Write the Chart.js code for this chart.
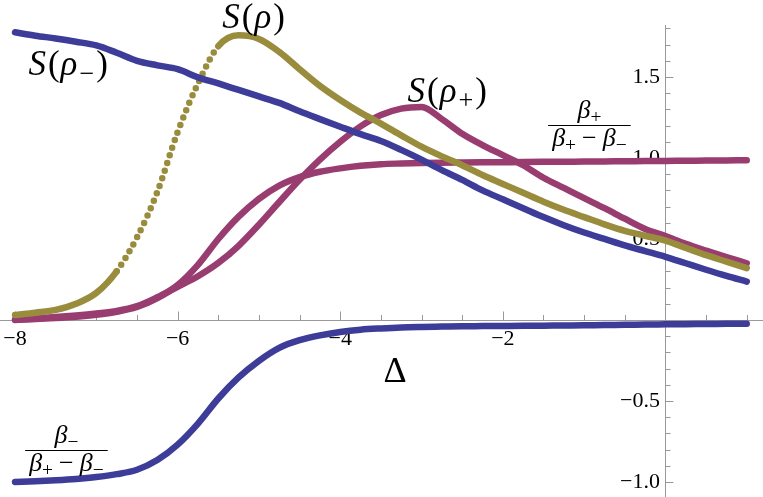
<!DOCTYPE html>
<html>
<head>
<meta charset="utf-8">
<script src="https://cdn.jsdelivr.net/npm/chart.js@4.4.1/dist/chart.umd.min.js"></script>
<style>
  html, body { margin: 0; padding: 0; background: #fff; }
  #wrap { width: 763px; height: 497px; }
</style>
</head>
<body>
<div id="wrap"><canvas id="plot" width="763" height="497"></canvas></div>
<script>
// Δ values (x) shared by all curves
const delta = [-8, -7.75, -7.5, -7.25, -7, -6.75, -6.5, -6.25, -6, -5.75, -5.5, -5.25, -5,
  -4.75, -4.5, -4.25, -4, -3.75, -3.5, -3.25, -3, -2.75, -2.5, -2.25, -2, -1.75, -1.5,
  -1.25, -1, -0.75, -0.5, -0.25, 0, 0.25, 0.5, 0.75, 1];

const sRhoMinus = [1.776, 1.755, 1.738, 1.718, 1.695, 1.650, 1.600, 1.572, 1.548, 1.498, 1.460,
  1.420, 1.380, 1.340, 1.288, 1.240, 1.193, 1.147, 1.105, 1.050, 0.990, 0.925, 0.865, 0.800,
  0.745, 0.690, 0.635, 0.585, 0.540, 0.500, 0.460, 0.425, 0.390, 0.350, 0.310, 0.272, 0.237];

const sRho = [0.031, 0.045, 0.062, 0.100, 0.167, 0.300, 0.510, 0.790, 1.160, 1.460, 1.690,
  1.757, 1.735, 1.655, 1.548, 1.445, 1.358, 1.280, 1.212, 1.140, 1.070, 1.010, 0.955, 0.895,
  0.840, 0.785, 0.730, 0.680, 0.635, 0.590, 0.550, 0.520, 0.490, 0.445, 0.400, 0.360, 0.320];

const sRhoPlus = [0.000, 0.008, 0.018, 0.028, 0.040, 0.055, 0.085, 0.140, 0.205, 0.270, 0.352,
  0.458, 0.588, 0.728, 0.865, 0.990, 1.100, 1.195, 1.265, 1.305, 1.315, 1.240, 1.150, 1.080,
  1.018, 0.955, 0.878, 0.815, 0.752, 0.690, 0.625, 0.562, 0.518, 0.470, 0.428, 0.388, 0.350];

const betaPlusRatio = [0.002, 0.006, 0.012, 0.020, 0.032, 0.050, 0.080, 0.135, 0.215, 0.340,
  0.500, 0.638, 0.748, 0.830, 0.882, 0.915, 0.936, 0.952, 0.962, 0.966, 0.969, 0.971, 0.972,
  0.973, 0.974, 0.975, 0.976, 0.977, 0.978, 0.979, 0.980, 0.981, 0.982, 0.983, 0.984, 0.985, 0.986];

const betaMinusRatio = [-1.000, -0.996, -0.990, -0.982, -0.970, -0.952, -0.925, -0.865, -0.770,
  -0.640, -0.485, -0.355, -0.252, -0.172, -0.125, -0.095, -0.074, -0.060, -0.052, -0.046,
  -0.043, -0.041, -0.039, -0.038, -0.037, -0.036, -0.035, -0.034, -0.033, -0.031, -0.030,
  -0.028, -0.027, -0.026, -0.025, -0.024, -0.023];

// ticks
const xTickValues = [-8, -7.5, -7, -6.5, -6, -5.5, -5, -4.5, -4, -3.5, -3, -2.5, -2, -1.5, -1, -0.5, 0.5, 1];
const xMajor = [-8, -6, -4, -2];
const yTickValues = [-1, -0.9, -0.8, -0.7, -0.6, -0.5, -0.4, -0.3, -0.2, -0.1,
  0.1, 0.2, 0.3, 0.4, 0.5, 0.6, 0.7, 0.8, 0.9, 1, 1.1, 1.2, 1.3, 1.4, 1.5, 1.6, 1.7, 1.8];
const yMajor = [-1, -0.5, 0.5, 1, 1.5];

const BLUE = '#3d3d99';
const MAGENTA = '#993d71';
const OLIVE = '#998d3d';
const SERIF = '"Liberation Serif", "Times New Roman", "DejaVu Serif", serif';

const isMajor = (v, list) => list.some(m => Math.abs(m - v) < 1e-9);
const minus = s => s.replace('-', '\u2212');
const pts = arr => delta.map((x, i) => ({ x: x, y: arr[i] }));

function series(label, arr, color) {
  return {
    label: label,
    data: pts(arr),
    borderColor: color,
    backgroundColor: color,
    borderWidth: 6.5,
    borderCapStyle: 'round',
    borderJoinStyle: 'round',
    pointRadius: 0,
    cubicInterpolationMode: 'monotone',
    // steep stretches of the sampled curve show up as separate dots
    segment: {
      borderDash: c => Math.abs(c.p1.y - c.p0.y) > 1.5 * Math.abs(c.p1.x - c.p0.x) ? [0, 8] : undefined
    }
  };
}

// rich text: italic letters, roman brackets, subscripts, small gaps
function richWidth(ctx, parts, size) {
  let w = 0;
  parts.forEach(p => {
    const fs = p.sub ? size * 0.75 : size;
    ctx.font = (p.it ? 'italic ' : '') + fs + 'px ' + SERIF;
    w += ctx.measureText(p.t).width + (p.gap || 0);
  });
  return w;
}
function drawRich(ctx, parts, x, y, size) {
  let cx = x;
  parts.forEach(p => {
    const fs = p.sub ? size * 0.75 : size;
    ctx.font = (p.it ? 'italic ' : '') + fs + 'px ' + SERIF;
    ctx.fillText(p.t, cx, y + (p.sub ? size * 0.2 : 0));
    cx += ctx.measureText(p.t).width + (p.gap || 0);
  });
}

const S = (sub) => {
  const p = [{ t: 'S', it: true, gap: 2 }, { t: '(', gap: 1 }, { t: '\u03c1', it: true, gap: 2 }];
  if (sub) p.push({ t: sub, sub: true, gap: 2 });
  p.push({ t: ')' });
  return p;
};
const betaDen = [{ t: '\u03b2', it: true }, { t: '+', sub: true, gap: 6 }, { t: '\u2212', gap: 6 },
  { t: '\u03b2', it: true }, { t: '\u2212', sub: true }];

const curveLabels = [
  { x: -7.835, y: 1.512, size: 35, parts: S('\u2212') },
  { x: -5.45, y: 1.80, size: 35, parts: S(null) },
  { x: -3.173, y: 1.346, size: 35, parts: S('+') }
];
const fractions = [
  { x: -0.935, y: 1.204, size: 26, num: [{ t: '\u03b2', it: true }, { t: '+', sub: true }], den: betaDen },
  { x: -7.368, y: -0.802, size: 26, num: [{ t: '\u03b2', it: true }, { t: '\u2212', sub: true }], den: betaDen }
];

// axis lines and inward tick marks, placed through the scales
const axisTicks = {
  id: 'axisTicks',
  beforeDatasetsDraw(chart) {
    const { ctx, chartArea, scales: { x, y } } = chart;
    const x0 = Math.round(x.getPixelForValue(0)) + 0.5;
    const y0 = Math.round(y.getPixelForValue(0)) + 0.5;
    ctx.save();
    ctx.strokeStyle = '#999';
    ctx.lineWidth = 1;
    ctx.beginPath();
    ctx.moveTo(chartArea.left, y0);
    ctx.lineTo(chartArea.right, y0);
    ctx.moveTo(x0, chartArea.top);
    ctx.lineTo(x0, chartArea.bottom);
    xTickValues.forEach(v => {
      const px = Math.round(x.getPixelForValue(v)) + 0.5;
      ctx.moveTo(px, y0);
      ctx.lineTo(px, y0 - (isMajor(v, xMajor) ? 9 : 5.5));
    });
    yTickValues.forEach(v => {
      const py = Math.round(y.getPixelForValue(v)) + 0.5;
      ctx.moveTo(x0, py);
      ctx.lineTo(x0 + (isMajor(v, yMajor) ? 8 : 5), py);
    });
    ctx.stroke();
    ctx.restore();
  }
};

const annotations = {
  id: 'annotations',
  afterDraw(chart) {
    const { ctx, scales: { x, y } } = chart;
    ctx.save();
    ctx.fillStyle = '#000';
    ctx.textAlign = 'left';
    ctx.textBaseline = 'alphabetic';
    curveLabels.forEach(l => drawRich(ctx, l.parts, x.getPixelForValue(l.x), y.getPixelForValue(l.y), l.size));

    fractions.forEach(f => {
      const cx = x.getPixelForValue(f.x);
      const cy = Math.round(y.getPixelForValue(f.y)) + 0.5;
      const wn = richWidth(ctx, f.num, f.size);
      const wd = richWidth(ctx, f.den, f.size);
      const w = Math.max(wn, wd) + 8;
      ctx.strokeStyle = '#000';
      ctx.lineWidth = 1.2;
      ctx.beginPath();
      ctx.moveTo(cx - w / 2, cy);
      ctx.lineTo(cx + w / 2, cy);
      ctx.stroke();
      drawRich(ctx, f.num, cx - wn / 2, cy - 8, f.size);
      drawRich(ctx, f.den, cx - wd / 2, cy + 20, f.size);
    });

    // axis label
    ctx.font = '36px ' + SERIF;
    ctx.textAlign = 'center';
    ctx.fillText('\u0394', x.getPixelForValue(-3.327), y.getPixelForValue(-0.383));
    ctx.restore();
  }
};

// axes sit on the other axis's zero, so they must not eat layout space
const flat = (s, horizontal) => {
  if (horizontal) s.height = 0; else s.width = 0;
  s.paddingLeft = s.paddingRight = s.paddingTop = s.paddingBottom = 0;
};

new Chart(document.getElementById('plot'), {
  type: 'line',
  data: {
    datasets: [
      series('S(\u03c1\u2212)', sRhoMinus, BLUE),
      series('\u03b2\u2212/(\u03b2+\u2212\u03b2\u2212)', betaMinusRatio, BLUE),
      series('S(\u03c1)', sRho, OLIVE),
      series('\u03b2+/(\u03b2+\u2212\u03b2\u2212)', betaPlusRatio, MAGENTA),
      series('S(\u03c1+)', sRhoPlus, MAGENTA)
    ]
  },
  options: {
    responsive: false,
    animation: false,
    devicePixelRatio: 1,
    layout: { padding: { top: 25, left: 0, right: 0, bottom: 0 } },
    plugins: {
      legend: { display: false },
      tooltip: { enabled: false }
    },
    scales: {
      x: {
        type: 'linear',
        position: { y: 0 },
        min: -8.185,
        max: 1.2,
        afterFit: s => flat(s, true),
        afterBuildTicks: scale => { scale.ticks = xTickValues.map(v => ({ value: v })); },
        grid: { display: false, drawTicks: false },
        border: { display: false },
        ticks: {
          autoSkip: false,
          maxRotation: 0,
          padding: 6,
          color: '#000',
          font: { family: SERIF, size: 22 },
          callback: v => isMajor(v, xMajor) ? minus(String(v)) : ''
        }
      },
      y: {
        type: 'linear',
        position: { x: 0 },
        min: -1.093,
        max: 1.821,
        afterFit: s => flat(s, false),
        afterBuildTicks: scale => { scale.ticks = yTickValues.map(v => ({ value: v })); },
        grid: { display: false, drawTicks: false },
        border: { display: false },
        ticks: {
          autoSkip: false,
          padding: 7,
          color: '#000',
          font: { family: SERIF, size: 22 },
          callback: v => isMajor(v, yMajor) ? minus(v.toFixed(1)) + ' ' : ''
        }
      }
    }
  },
  plugins: [axisTicks, annotations]
});
</script>
</body>
</html>
